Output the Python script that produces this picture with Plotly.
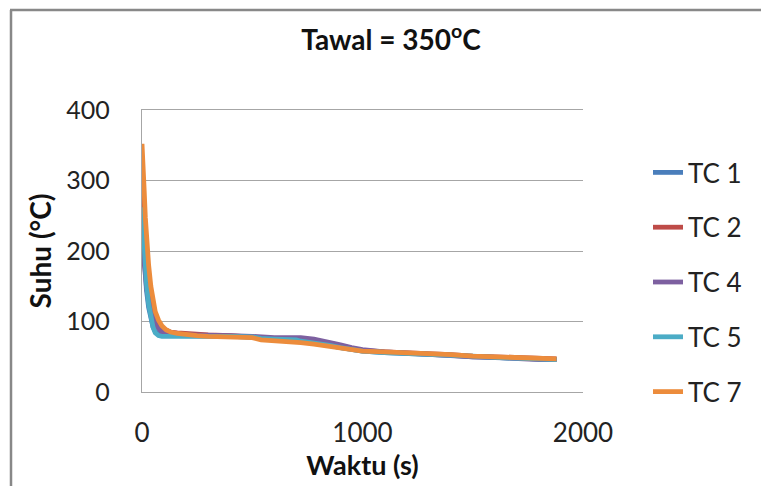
import plotly.graph_objects as go

time_s = [0, 5, 10, 15, 20, 30, 40, 50, 60, 75, 90, 110, 130, 160, 200, 250, 300, 400, 500,
          540, 600, 700, 720, 780, 850, 900, 950, 1000, 1100, 1200, 1300, 1400, 1500, 1600,
          1700, 1800, 1880]

tc1 = [250, 215, 185, 162, 145, 120, 103, 92, 86, 82, 81, 80, 80, 80, 80, 80, 80, 79, 78,
       76, 75, 74, 72, 70, 66, 63, 60, 58, 56, 55, 53, 52, 50, 49, 47, 46, 46]
tc2 = [300, 265, 235, 210, 190, 160, 138, 122, 110, 98, 91, 87, 85, 84, 83, 82, 81, 80, 79,
       77, 76, 75, 73, 71, 67, 64, 61, 59, 57, 56, 54, 53, 51, 50, 48, 47, 47]
tc4 = [215, 195, 178, 163, 150, 130, 115, 104, 96, 89, 85, 83, 82, 81, 81, 81, 81, 80, 79,
       78, 77, 77, 77, 75, 71, 67, 63, 60, 57, 55, 53, 52, 50, 49, 47, 46, 46]
tc5 = [262, 230, 200, 175, 155, 125, 105, 92, 84, 80, 79, 79, 79, 80, 80, 80, 80, 79, 78,
       76, 75, 74, 72, 70, 66, 63, 60, 58, 56, 55, 53, 52, 51, 49, 48, 47, 46]
tc7 = [352, 330, 285, 248, 218, 180, 150, 128, 114, 102, 94, 88, 85, 83, 81, 80, 79, 78, 77,
       74, 73, 72, 70, 68, 65, 62, 60, 58, 57, 56, 54, 53, 51, 50, 48, 47, 47]

series_names = ["TC 1", "TC 2", "TC 4", "TC 5", "TC 7"]
series_values = [tc1, tc2, tc4, tc5, tc7]
series_colors = ["#4a7ebb", "#be4b48", "#7d60a0", "#4bacc6", "#ec8c3c"]

x_ticks = [0, 1000, 2000]
y_ticks = [0, 100, 200, 300, 400]

FONT = "Lato, 'Open Sans', sans-serif"
GRID = "#a6a6a6"

fig = go.Figure()
for name, vals, col in zip(series_names, series_values, series_colors):
    fig.add_trace(go.Scatter(x=time_s, y=vals, name=name, mode="lines",
                             line=dict(color=col, width=4.8), legendgroup=name))

# plot area: left 142, right 583, top 110, bottom 392 (px)
L, R, T, B = 142, 583, 110, 392
W, H = 761, 486
pw, ph = R - L, B - T

def px_x(p):
    return (p - L) / pw

def px_y(p):
    return (B - p) / ph

fig.update_layout(
    width=W, height=H,
    margin=dict(l=L, r=W - R, t=T, b=H - B, pad=0, autoexpand=False),
    paper_bgcolor="white", plot_bgcolor="white",
    font=dict(family=FONT, color="#222222", size=26),
    title=dict(text="<b>Tawal = 350<sup>o</sup>C</b>", x=px_x(391), xref="paper",
               xanchor="center", y=1 - 40 / H, yanchor="middle",
               font=dict(family=FONT, size=28, color="#111111")),
    showlegend=True,
    legend=dict(x=px_x(648), xanchor="left", y=px_y(149), yanchor="top",
                font=dict(family=FONT, size=26, color="#222222"),
                traceorder="grouped", tracegroupgap=18, itemwidth=30,
                bgcolor="rgba(0,0,0,0)"),
    xaxis=dict(range=[0, 2000], tickvals=x_ticks, showgrid=False, zeroline=False,
               showline=True, mirror=True, linecolor=GRID, linewidth=1.3,
               ticks="", ticklabelstandoff=18,
               title=dict(text="<b>Waktu (s)</b>", standoff=8,
                          font=dict(family=FONT, size=27, color="#111111"))),
    yaxis=dict(range=[0, 400], tickvals=y_ticks, showgrid=True, gridcolor=GRID, gridwidth=1.3,
               zeroline=False, showline=True, linecolor=GRID, linewidth=1.3, ticks="",
               tickfont=dict(size=25),
               ticklabelstandoff=26,
               title=dict(text="<b>Suhu (°C)</b>", standoff=6,
                          font=dict(family=FONT, size=28, color="#111111"))),
)

# outer chart frame (left and top edges visible in the crop)
fig.add_shape(type="line", xref="paper", yref="paper",
              x0=px_x(11), x1=px_x(11), y0=px_y(10), y1=px_y(500),
              line=dict(color="#888888", width=2.5), layer="above")
fig.add_shape(type="line", xref="paper", yref="paper",
              x0=px_x(10), x1=px_x(770), y0=px_y(10), y1=px_y(10),
              line=dict(color="#888888", width=2.5), layer="above")

fig.write_html("out.html", config={"displayModeBar": False},
               post_script="document.body.style.margin='0';")
